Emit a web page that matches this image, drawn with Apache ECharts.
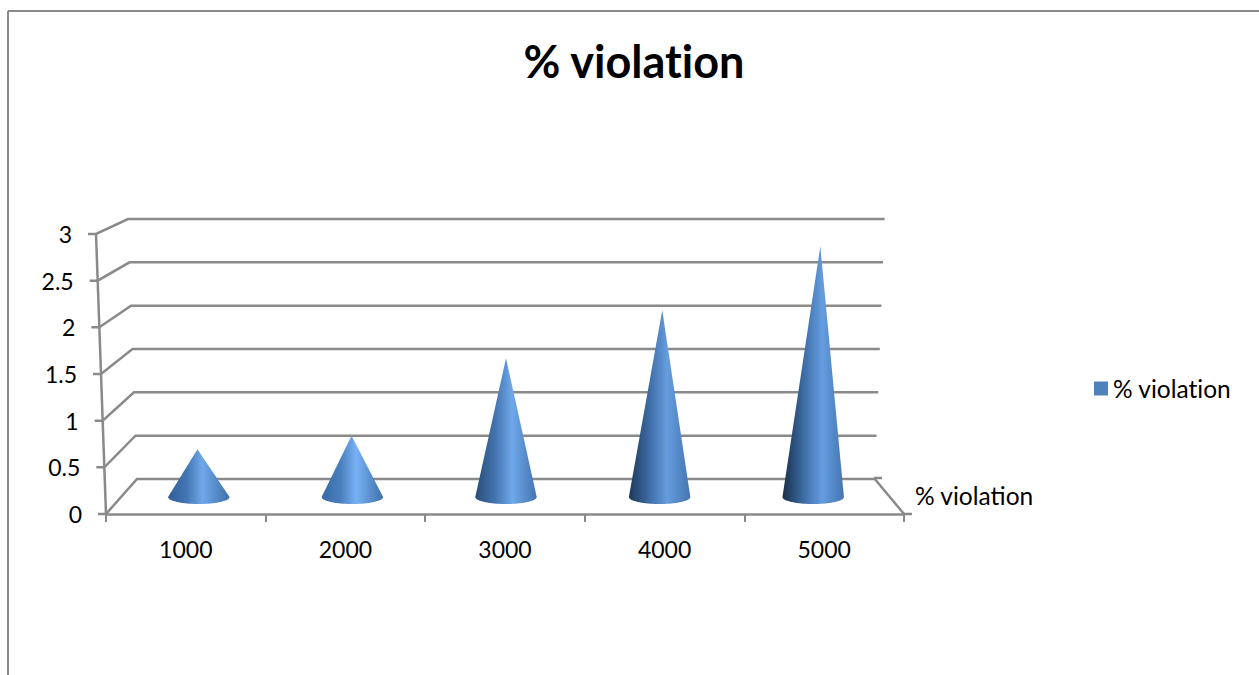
<!DOCTYPE html>
<html>
<head>
<meta charset="utf-8">
<title>% violation</title>
<script src="https://cdn.jsdelivr.net/npm/echarts@6/dist/echarts.min.js"></script>
<style>
  html, body { margin: 0; padding: 0; background: #fff; }
  #chart { width: 1259px; height: 675px; }
  #chart text { font-variant-ligatures: none; }
</style>
</head>
<body>
<div id="chart"></div>
<script>
// data
const seriesName = '% violation'
const categories = ['1000', '2000', '3000', '4000', '5000']
const violation = [0.53, 0.68, 1.54, 2.07, 2.78]
const yTicks = [0, 0.5, 1, 1.5, 2, 2.5, 3]

// shading of each cone: dark edge, mid tone, highlight, right edge, highlight position
const coneShades = [
  ['#2f5e97', '#4477b4', '#6fa8ea', '#3f70ab', 0.56],
  ['#376aa6', '#4a7fbe', '#78b2f5', '#3f70ab', 0.56],
  ['#284d78', '#4475b0', '#6fa8ea', '#4374af', 0.6],
  ['#1c3757', '#3f6ea8', '#659ddf', '#4475b0', 0.62],
  ['#182e49', '#3f6ea8', '#659ddf', '#4475b0', 0.65]
]

const gray = '#8a8a8a'
const fontFamily = 'Lato, "Noto Sans", sans-serif'
const labelFont = '23px ' + fontFamily
const nameFont = '24.5px ' + fontFamily
const wallWidth = 2.5

const chart = echarts.init(document.getElementById('chart'), null, { renderer: 'svg' })

// the wall leans outwards a little with height (perspective)
const frontLean = 10 / 3
const backLeftLean = 3
const backRightLean = 3.2
const coneLean = 10 / 3 / 400

const renderWall = (params, api) => {
  const v = api.value(1)
  const left = api.coord([0, v])
  const right = api.coord([1, v])
  const frontY = chart.convertToPixel({ yAxisIndex: 0 }, v)
  const frontX = chart.convertToPixel({ xAxisIndex: 2 }, 0) - frontLean * v
  const backL = left[0] - backLeftLean * v
  const backR = right[0] + backRightLean * v
  const lineStyle = { stroke: gray, lineWidth: wallWidth }
  return {
    type: 'group',
    children: [
      { type: 'polyline', shape: { points: [[frontX - 8, frontY], [frontX, frontY], [backL, left[1]], [backR, left[1]]] }, style: { ...lineStyle, fill: null } },
      { type: 'text', style: { text: String(v), x: frontX - 24, y: frontY, align: 'right', verticalAlign: 'middle', fill: '#000', font: labelFont } }
    ]
  }
}

const renderCone = (params, api) => {
  const i = params.dataIndex
  const base = api.coord([i, 0])
  const tip = api.coord([i, api.value(1)])
  const halfW = api.size([1, 0])[0] * 0.2
  const ry = 7
  const tipX = base[0] + (base[0] - 506) * coneLean * api.value(1)
  const points = [[tipX, tip[1]]]
  for (let a = 0; a <= 40; a++) {
    const t = Math.PI * a / 40
    points.push([base[0] + halfW * Math.cos(t), base[1] + ry * Math.sin(t)])
  }
  const s = coneShades[i]
  return {
    type: 'polygon',
    shape: { points },
    style: {
      fill: new echarts.graphic.LinearGradient(0, 0, 1, 0, [
        { offset: 0, color: s[0] },
        { offset: s[4] * 0.55, color: s[1] },
        { offset: s[4], color: s[2] },
        { offset: 1, color: s[3] }
      ])
    }
  }
}

const renderDepth = (params, api) => {
  const frontLeft = chart.convertToPixel({ xAxisIndex: 2 }, 0)
  const frontX = chart.convertToPixel({ xAxisIndex: 2 }, 1)
  const frontY = chart.convertToPixel({ yAxisIndex: 0 }, 0)
  const frontTop = chart.convertToPixel({ yAxisIndex: 0 }, 3)
  const back = api.coord([1, 0])
  const lineStyle = { stroke: gray, lineWidth: wallWidth }
  return {
    type: 'group',
    children: [
      { type: 'line', shape: { x1: frontLeft, y1: frontY, x2: frontLeft - frontLean * 3, y2: frontTop }, style: lineStyle },
      { type: 'line', shape: { x1: back[0] - 1, y1: back[1] - 1, x2: frontX, y2: frontY }, style: lineStyle },
      { type: 'line', shape: { x1: back[0] - 1, y1: back[1] - 1, x2: back[0] + 7, y2: back[1] - 1 }, style: lineStyle },
      { type: 'line', shape: { x1: frontX, y1: frontY, x2: frontX + 8, y2: frontY }, style: lineStyle },
      { type: 'text', style: { text: seriesName, x: back[0] + 40, y: back[1] + 16, align: 'left', verticalAlign: 'middle', fill: '#000', font: nameFont } }
    ]
  }
}

const option = {
  animation: false,
  backgroundColor: '#fff',
  title: {
    text: seriesName,
    left: 629,
    top: 33,
    textAlign: 'center',
    textStyle: { fontFamily, fontSize: 45, fontWeight: 'bold', color: '#000' }
  },
  legend: {
    data: [seriesName],
    left: 1089,
    top: 371,
    icon: 'rect',
    itemWidth: 14,
    itemHeight: 14,
    itemGap: 6,
    textStyle: { fontFamily, fontSize: 24.5, color: '#000', padding: [0, 0, 0, 0] }
  },
  graphic: [
    { type: 'line', shape: { x1: 8, y1: 11, x2: 1259, y2: 11 }, style: { stroke: gray, lineWidth: 2 } },
    { type: 'line', shape: { x1: 8, y1: 11, x2: 8, y2: 675 }, style: { stroke: gray, lineWidth: 2 } }
  ],
  grid: [
    // front edge of the floor, carries the category axis
    { left: 106, top: 234, width: 798, height: 280 },
    // back wall
    { left: 137, top: 219, width: 738, height: 260 },
    // plane the cones stand on
    { left: 122, top: 226.5, width: 768, height: 270.5 }
  ],
  xAxis: [
    {
      type: 'category',
      gridIndex: 0,
      data: categories,
      axisLine: { lineStyle: { color: gray, width: wallWidth } },
      axisTick: { show: true, length: 8, lineStyle: { color: gray, width: 2 } },
      axisLabel: { margin: 23, color: '#000', fontFamily, fontSize: 23 }
    },
    { type: 'value', gridIndex: 1, min: 0, max: 1, show: false },
    { type: 'value', gridIndex: 0, min: 0, max: 1, show: false },
    { type: 'category', gridIndex: 2, data: categories, show: false }
  ],
  yAxis: [
    { type: 'value', gridIndex: 0, min: 0, max: 3, interval: 0.5, show: false },
    { type: 'value', gridIndex: 1, min: 0, max: 3, interval: 0.5, show: false },
    { type: 'value', gridIndex: 2, min: 0, max: 3, interval: 0.5, show: false }
  ],
  series: [
    {
      type: 'custom',
      xAxisIndex: 1,
      yAxisIndex: 1,
      silent: true,
      z: 1,
      encode: { x: 0, y: 1 },
      data: yTicks.map(v => [0, v]),
      renderItem: renderWall
    },
    {
      type: 'custom',
      xAxisIndex: 1,
      yAxisIndex: 1,
      silent: true,
      z: 1,
      encode: { x: 0, y: 1 },
      data: [[1, 0]],
      renderItem: renderDepth
    },
    {
      name: seriesName,
      type: 'custom',
      xAxisIndex: 3,
      yAxisIndex: 2,
      z: 3,
      itemStyle: { color: '#4f81bd' },
      encode: { x: 0, y: 1 },
      data: violation.map((v, i) => [i, v]),
      renderItem: renderCone
    }
  ]
}

chart.setOption(option)
</script>
</body>
</html>
